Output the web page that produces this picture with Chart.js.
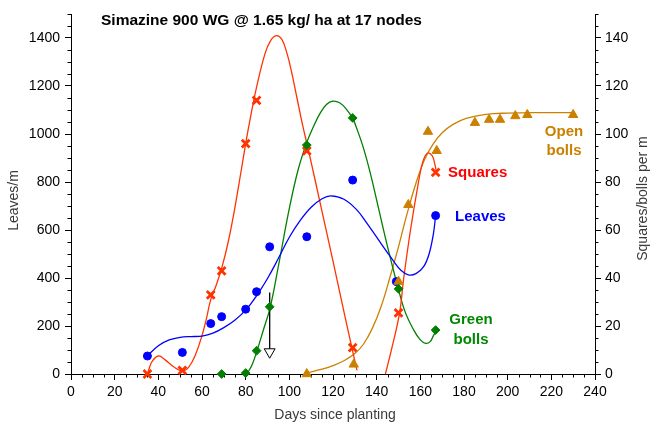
<!DOCTYPE html>
<html><head><meta charset="utf-8">
<script src="https://cdn.jsdelivr.net/npm/chart.js@4.4.1/dist/chart.umd.min.js"></script>
<style>html,body{margin:0;padding:0;background:#fff;}#wrap{width:650px;height:423px;}</style>
</head><body><div id="wrap"><canvas id="c" width="650" height="423"></canvas></div>
<script>
// ---- tick labels ----
const xTicks = [0,20,40,60,80,100,120,140,160,180,200,220,240];
const leftTicks = [0,200,400,600,800,1000,1200,1400];
const rightTicks = [0,20,40,60,80,100,120,140];

// ---- observed values ----
// Leaves (leaves/m, left axis)
const leafDays = [35, 51, 64, 69, 80, 85, 91, 108, 129, 149, 167];
const leafVals = [75, 90, 210, 239, 270, 343, 530, 572, 808, 385, 660];
// Squares (per m, right axis)
const sqDays = [35, 51, 64, 69, 80, 85, 108, 129, 150, 167];
const sqVals = [0, 1.5, 33, 43, 96, 114, 93, 11, 25.5, 84];
// Green bolls (per m, right axis)
const gbDays = [69, 80, 85, 91, 108, 129, 150, 167];
const gbVals = [0, 0.4, 9.7, 28, 95.4, 106.7, 35.5, 18.3];
// Open bolls (per m, right axis)
const obDays = [108, 129.5, 150, 154.5, 163.5, 167.5, 185, 191.5, 196.5, 203.5, 209, 230];
const obVals = [0, 4, 38.5, 70.5, 101, 93, 104.7, 106, 106, 107.5, 108, 108];

// ---- fitted curves ----
const leafCurveDays = [35, 40, 45, 50, 55, 60, 65, 70, 75, 80, 85, 90, 95, 100, 105, 110, 115, 119, 125, 131, 135, 140, 145, 148, 151, 154.5, 158, 161.5, 164, 166, 167];
const leafCurveVals = [75, 118, 142, 153, 156, 158, 170, 193, 224, 266, 326, 398, 482, 570, 640, 695, 730, 742, 728, 683, 635, 570, 505, 467, 433, 413, 418, 447, 500, 585, 660];
const sqCurve1Days = [35, 37, 40, 43, 47, 51, 54, 57, 60, 62, 64, 66.5, 69, 72, 75, 78, 80, 82, 85, 88.9, 91.5, 94, 96.5, 98.8, 101, 103.5, 106, 108.7, 112, 116, 120, 125, 129, 131];
const sqCurve1Vals = [0, 5, 7.5, 6, 3, 1.3, 3, 8, 16, 23, 31, 37, 44, 55, 69, 85, 96, 106, 119.5, 133.6, 139, 141, 139.5, 134, 126, 115, 104, 93.5, 80, 63.5, 47, 26, 9.5, 1.5];
const sqCurve2Days = [144, 147, 150.5, 152.4, 155.5, 158.6, 161, 163.2, 165.4, 166.5, 167.4];
const sqCurve2Vals = [0, 11, 25.5, 40, 60, 77, 88, 92, 91, 88, 84];
const gbCurveDays = [80.6, 83, 85.2, 88, 91.3, 95, 100, 104, 108, 111, 114, 117, 120, 123, 126, 129, 131, 134, 137, 141, 145, 149.5, 153, 157, 160, 162.4, 164.5, 166, 167.4];
const gbCurveVals = [0, 4, 9.7, 18, 28, 45, 69, 85, 96.5, 103, 108.5, 112.3, 113.7, 113, 110.5, 106.5, 102, 94, 84, 68.5, 53, 37, 26, 18.3, 14.2, 12.8, 13.5, 16, 18.3];
const obCurveDays = [108, 115, 120, 125, 130, 134, 138, 142, 146, 150, 154, 158, 162, 166, 170, 175, 181, 190, 200, 215, 230];
const obCurveVals = [0.5, 2, 3.5, 5.5, 8.5, 12.5, 19, 28, 40, 53, 67, 79.5, 89.5, 96, 100.5, 104, 106.5, 108.2, 108.7, 108.9, 108.9];

// ---- arrow (leaves/m) ----
const arrowDays = [91, 91];
const arrowVals = [340, 92];

const FONT = '"Liberation Sans", Arial, Helvetica, sans-serif';
const C_RED = '#FF3300', C_BLUE = '#0000FF', C_GREEN = '#007F00', C_ORANGE = '#CC8000';

const pts = (xs, ys) => xs.map((x, i) => ({x: x, y: ys[i]}));

const curve = (xs, ys, color, axis) => ({
  data: pts(xs, ys), yAxisID: axis, borderColor: color, borderWidth: 1.3,
  pointRadius: 0, tension: 0.4, fill: false, order: 10
});

const seriesLabels = [
  {lines: ['Squares'], day: 172.7, val: 84, color: '#FF0000', align: 'left'},
  {lines: ['Leaves'], day: 175.9, val: 65.6, color: '#0000FF', align: 'left'},
  {lines: ['Green', 'bolls'], day: 183.2, val: 22.5, color: '#008800', align: 'center'},
  {lines: ['Open', 'bolls'], day: 225.8, val: 101, color: '#CC8000', align: 'center'}
];

const overlay = {
  id: 'overlay',
  beforeDatasetsDraw(chart) {
    const ctx = chart.ctx;
    const xs = chart.scales.x, yl = chart.scales.y, yr = chart.scales.y1;
    const a = chart.chartArea;
    ctx.save();
    ctx.strokeStyle = '#000';
    ctx.lineWidth = 1;
    ctx.beginPath();
    for (let d = 0; d <= 240; d += 5) {
      if (d % 20 === 0) continue;
      const px = Math.round(xs.getPixelForValue(d)) + 0.5;
      ctx.moveTo(px, a.bottom); ctx.lineTo(px, a.bottom + 3.5);
    }
    for (let v = 0; v <= 1500; v += 50) {
      if (v % 200 === 0) continue;
      const py = Math.round(yl.getPixelForValue(v)) + 0.5;
      ctx.moveTo(a.left, py); ctx.lineTo(a.left - 3.5, py);
    }
    for (let v = 0; v <= 150; v += 5) {
      if (v % 20 === 0) continue;
      const py = Math.round(yr.getPixelForValue(v)) + 0.5;
      ctx.moveTo(a.right, py); ctx.lineTo(a.right + 3.5, py);
    }
    ctx.stroke();
    ctx.restore();
  },
  afterDraw(chart) {
    const ctx = chart.ctx;
    const xs = chart.scales.x, yr = chart.scales.y1;
    const a = chart.chartArea;
    ctx.save();
    // chart title
    ctx.fillStyle = '#000';
    ctx.font = 'bold 15.5px ' + FONT;
    ctx.textAlign = 'left';
    ctx.textBaseline = 'middle';
    ctx.fillText('Simazine 900 WG @ 1.65 kg/ ha at 17 nodes', a.left + 30, a.top + 6.5);
    // series labels
    ctx.font = 'bold 15px ' + FONT;
    seriesLabels.forEach(l => {
      ctx.fillStyle = l.color;
      ctx.textAlign = l.align;
      const x = xs.getPixelForValue(l.day);
      const y0 = yr.getPixelForValue(l.val);
      l.lines.forEach((t, i) => ctx.fillText(t, x, y0 + i * 19.5));
    });
    // axis titles
    ctx.font = '14px ' + FONT;
    ctx.fillStyle = '#3a3a3a';
    ctx.textAlign = 'center';
    ctx.textBaseline = 'middle';
    ctx.fillText('Days since planting', (a.left + a.right) / 2 + 2, 415.5);
    ctx.save();
    ctx.translate(14, 200.5);
    ctx.rotate(-Math.PI / 2);
    ctx.fillText('Leaves/m', 0, 0);
    ctx.restore();
    ctx.save();
    ctx.translate(643.5, 198.5);
    ctx.rotate(-Math.PI / 2);
    ctx.fillText('Squares/bolls per m', 0, 0);
    ctx.restore();
    ctx.restore();
  }
};

const axisCommon = (ticksArr, pad) => ({
  type: 'linear',
  afterBuildTicks: s => { s.ticks = ticksArr.map(v => ({value: v})); },
  grid: {drawOnChartArea: false, drawTicks: true, tickLength: 6, tickColor: '#000', tickWidth: 1},
  border: {display: true, color: '#000', width: 1},
  ticks: {color: '#000', font: {family: FONT, size: 14}, padding: pad, autoSkip: false, maxRotation: 0,
          callback: v => String(v)}
});

new Chart(document.getElementById('c'), {
  type: 'line',
  data: {
    datasets: [
      {data: pts(gbDays, gbVals), yAxisID: 'y1', showLine: false, pointStyle: 'rectRot',
       pointRadius: 4.4, pointBorderWidth: 1, pointBackgroundColor: C_GREEN, pointBorderColor: C_GREEN, clip: false, order: 1},
      {data: pts(obDays, obVals), yAxisID: 'y1', showLine: false, pointStyle: 'triangle',
       pointRadius: 5.4, pointBorderWidth: 1, pointBackgroundColor: C_ORANGE, pointBorderColor: C_ORANGE, clip: false, order: 2},
      {data: pts(sqDays, sqVals), yAxisID: 'y1', showLine: false, pointStyle: 'crossRot',
       pointRadius: 5.5, pointBorderWidth: 2.8, pointBackgroundColor: C_RED, pointBorderColor: C_RED, clip: false, order: 3},
      {data: pts(leafDays, leafVals), yAxisID: 'y', showLine: false, pointStyle: 'circle',
       pointRadius: 4, pointBorderWidth: 1, pointBackgroundColor: C_BLUE, pointBorderColor: C_BLUE, clip: false, order: 4},
      {data: pts(arrowDays, arrowVals), yAxisID: 'y', borderColor: '#000', borderWidth: 1.3,
       pointStyle: 'triangle', pointRotation: 180, pointRadius: [0, 6.3], pointBorderWidth: 1,
       pointBackgroundColor: '#fff', pointBorderColor: '#000', clip: false, order: 5},
      curve(leafCurveDays, leafCurveVals, C_BLUE, 'y'),
      curve(sqCurve1Days, sqCurve1Vals, C_RED, 'y1'),
      curve(sqCurve2Days, sqCurve2Vals, C_RED, 'y1'),
      curve(gbCurveDays, gbCurveVals, C_GREEN, 'y1'),
      curve(obCurveDays, obCurveVals, C_ORANGE, 'y1')
    ]
  },
  options: {
    responsive: false,
    animation: false,
    events: [],
    layout: {padding: {top: 14, left: 0, right: 0, bottom: 0}},
    plugins: {legend: {display: false}, title: {display: false}, tooltip: {enabled: false}},
    scales: {
      x: Object.assign(axisCommon(xTicks, 4), {min: 0, max: 240, position: 'bottom',
        afterFit: s => { s.height = 49; }}),
      y: Object.assign(axisCommon(leftTicks, 5), {min: 0, max: 1500, position: 'left',
        afterFit: s => { s.width = 71; }}),
      y1: Object.assign(axisCommon(rightTicks, 4), {min: 0, max: 150, position: 'right',
        afterFit: s => { s.width = 55; }})
    }
  },
  plugins: [overlay]
});
</script>
</body></html>
